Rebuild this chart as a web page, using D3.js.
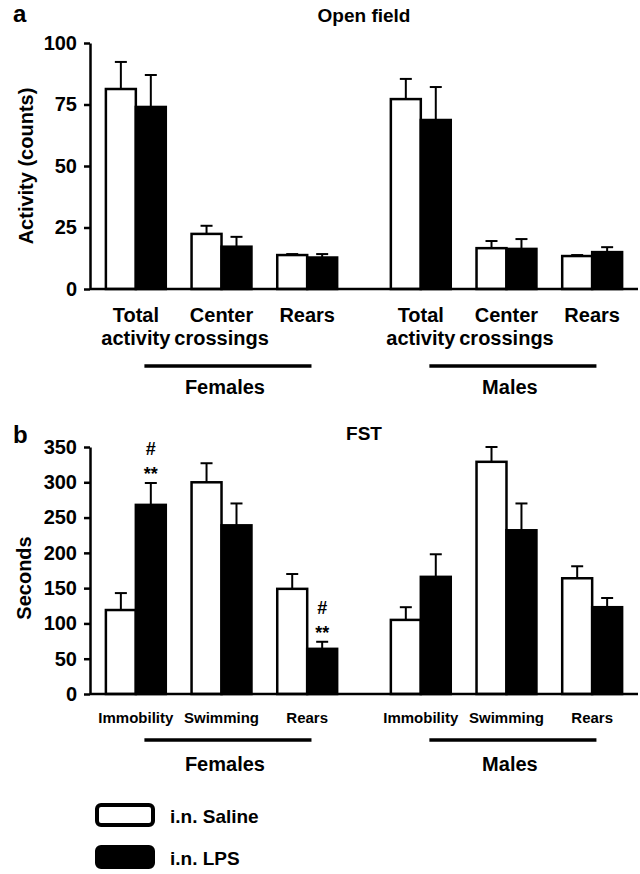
<!DOCTYPE html>
<html>
<head>
<meta charset="utf-8">
<script src="https://cdn.jsdelivr.net/npm/d3@7"></script>
<style>
  body { margin: 0; background: #fff; }
  text { font-family: "Liberation Sans", Arial, Helvetica, sans-serif; font-weight: bold; fill: #000; }
</style>
</head>
<body>
<svg id="chart" width="640" height="874"></svg>
<script>
// groups and series
const sexes = ["Females", "Males"];
const seriesKeys = ["saline", "lps"];
const seriesNames = ["i.n. Saline", "i.n. LPS"];

// panel a: open field
const openFieldLabels = [["Total", "activity"], ["Center", "crossings"], ["Rears"]];
const openFieldTicks = [0, 25, 50, 75, 100];
const ofFemSaline = [81.3, 22.4, 13.8];
const ofFemSalineSem = [11, 3.3, 0.4];
const ofFemLps = [74, 17.2, 12.8];
const ofFemLpsSem = [13, 4, 1.4];
const ofMaleSaline = [77.2, 16.6, 13.4];
const ofMaleSalineSem = [8.2, 2.9, 0.4];
const ofMaleLps = [68.7, 16.3, 15];
const ofMaleLpsSem = [13.4, 4, 2];

// panel b: forced swim test
const fstLabels = [["Immobility"], ["Swimming"], ["Rears"]];
const fstTicks = [0, 50, 100, 150, 200, 250, 300, 350];
const fstFemSaline = [119, 300, 149];
const fstFemSalineSem = [24, 27, 21];
const fstFemLps = [268, 239, 64];
const fstFemLpsSem = [31, 31, 10];
const fstMaleSaline = [105, 329, 164];
const fstMaleSalineSem = [18, 21, 17];
const fstMaleLps = [166, 232, 123];
const fstMaleLpsSem = [32, 38, 13];
const fstFemLpsMarks = [["#", "**"], [], ["#", "**"]];

const svg = d3.select("#chart");

// shared x layout: sex -> measure -> series
const x0 = d3.scaleBand().domain(sexes).range([93, 635]).paddingInner(0.098);
const x1 = d3.scaleBand().domain([0, 1, 2]).range([0, x0.bandwidth()]);
const x2 = d3.scaleBand().domain(seriesKeys).range([0, x1.bandwidth()]).paddingOuter(0.43);
const axisX = 90;

function rows(table) {
    const out = [];
    sexes.forEach((sex, si) => {
        seriesKeys.forEach((key, ki) => {
            const vals = table[si][ki][0], sems = table[si][ki][1];
            vals.forEach((v, i) => out.push({ sex, key, i, value: v, sem: sems[i] }));
        });
    });
    return out;
}

function drawPanel(p) {
    const y = d3.scaleLinear().domain([0, p.max]).range([p.y0, p.y1]);
    const g = svg.append("g");
    const data = rows(p.table);
    const bx = d => x0(d.sex) + x1(d.i) + x2(d.key);

    // error bars (upward only)
    const eb = g.selectAll(".err").data(data).enter().append("g").attr("class", "err");
    eb.append("line")
        .attr("x1", d => bx(d) + x2.bandwidth() / 2)
        .attr("x2", d => bx(d) + x2.bandwidth() / 2)
        .attr("y1", d => y(d.value))
        .attr("y2", d => y(d.value + d.sem))
        .attr("stroke", "#000").attr("stroke-width", 2);
    eb.append("line")
        .attr("x1", d => bx(d) + x2.bandwidth() / 2 - 6)
        .attr("x2", d => bx(d) + x2.bandwidth() / 2 + 6)
        .attr("y1", d => y(d.value + d.sem))
        .attr("y2", d => y(d.value + d.sem))
        .attr("stroke", "#000").attr("stroke-width", 2);

    // bars
    g.selectAll(".bar").data(data).enter().append("rect")
        .attr("class", "bar")
        .attr("x", d => bx(d))
        .attr("y", d => y(d.value))
        .attr("width", x2.bandwidth())
        .attr("height", d => y(0) - y(d.value))
        .attr("fill", d => d.key === "saline" ? "#fff" : "#000")
        .attr("stroke", "#000")
        .attr("stroke-width", 2.5);

    // significance marks
    if (p.marks) {
        data.filter(d => d.sex === p.marks.sex && d.key === p.marks.key).forEach(d => {
            const m = p.marks.list[d.i];
            if (!m.length) return;
            const cx = bx(d) + x2.bandwidth() / 2;
            const top = y(d.value + d.sem);
            g.append("text").attr("x", cx).attr("y", top - 28).attr("text-anchor", "middle")
                .style("font-size", "18px").text(m[0]);
            g.append("text").attr("x", cx).attr("y", top - 3).attr("text-anchor", "middle")
                .style("font-size", "18px").text(m[1]);
        });
    }

    // y axis
    const ya = g.append("g")
        .attr("transform", `translate(${axisX},0)`)
        .call(d3.axisLeft(y).tickValues(p.ticks).tickSize(6).tickSizeOuter(0).tickPadding(7));
    ya.select(".domain").attr("stroke-width", 2.5);
    ya.selectAll(".tick line").attr("stroke-width", 2.5);
    ya.selectAll(".tick text").style("font-size", "20px").style("font-family", "Liberation Sans, Arial, sans-serif").style("font-weight", "bold");

    // baseline
    g.append("line")
        .attr("x1", axisX).attr("x2", 638)
        .attr("y1", y(0)).attr("y2", y(0))
        .attr("stroke", "#000").attr("stroke-width", 2.5);

    // category labels
    sexes.forEach(sex => {
        p.labels.forEach((lines, i) => {
            const cx = x0(sex) + x1(i) + x1.bandwidth() / 2;
            lines.forEach((t, li) => {
                g.append("text").attr("x", cx).attr("y", y(0) + p.labelOff + li * 23)
                    .attr("text-anchor", "middle").style("font-size", p.labelSize).text(t);
            });
        });
        // bracket line + sex label
        const lx1 = x0(sex) + x1.bandwidth() * 0.6;
        const lx2 = x0(sex) + x0.bandwidth() - x1.bandwidth() * 0.45;
        g.append("line").attr("x1", lx1).attr("x2", lx2)
            .attr("y1", y(0) + p.lineOff).attr("y2", y(0) + p.lineOff)
            .attr("stroke", "#000").attr("stroke-width", 3.5);
        g.append("text").attr("x", (lx1 + lx2) / 2 - 3).attr("y", y(0) + p.sexOff)
            .attr("text-anchor", "middle").style("font-size", "20px").text(sex);
    });

    // titles
    g.append("text").attr("x", 13).attr("y", p.letterY).style("font-size", "24px").text(p.letter);
    g.append("text").attr("x", 364).attr("y", p.titleY).attr("text-anchor", "middle")
        .style("font-size", "19px").text(p.title);
    g.append("text")
        .attr("transform", `translate(${p.yLabelX},${p.yLabelY}) rotate(-90)`)
        .attr("text-anchor", "middle").style("font-size", "20px").text(p.yLabel);
}

drawPanel({
    letter: "a", letterY: 22, title: "Open field", titleY: 22,
    yLabel: "Activity (counts)", yLabelX: 33, yLabelY: 166,
    max: 100, y0: 289, y1: 43, ticks: openFieldTicks,
    labels: openFieldLabels, labelSize: "20px", labelOff: 33, lineOff: 77, sexOff: 105,
    table: [
        [[ofFemSaline, ofFemSalineSem], [ofFemLps, ofFemLpsSem]],
        [[ofMaleSaline, ofMaleSalineSem], [ofMaleLps, ofMaleLpsSem]]
    ]
});

drawPanel({
    letter: "b", letterY: 443, title: "FST", titleY: 440,
    yLabel: "Seconds", yLabelX: 31, yLabelY: 578,
    max: 350, y0: 694, y1: 447, ticks: fstTicks,
    labels: fstLabels, labelSize: "15px", labelOff: 29, lineOff: 46, sexOff: 77,
    marks: { sex: "Females", key: "lps", list: fstFemLpsMarks },
    table: [
        [[fstFemSaline, fstFemSalineSem], [fstFemLps, fstFemLpsSem]],
        [[fstMaleSaline, fstMaleSalineSem], [fstMaleLps, fstMaleLpsSem]]
    ]
});

// legend
const leg = svg.append("g").attr("transform", "translate(95,805)");
const legY = d3.scalePoint().domain(seriesKeys).range([0, 42]);
leg.selectAll("rect").data(seriesKeys).enter().append("rect")
    .attr("x", 2).attr("y", d => legY(d))
    .attr("width", 56).attr("height", 20).attr("rx", 4)
    .attr("fill", d => d === "saline" ? "#fff" : "#000")
    .attr("stroke", "#000").attr("stroke-width", 4);
leg.selectAll("text").data(seriesKeys).enter().append("text")
    .attr("x", 75).attr("y", d => legY(d) + 18)
    .style("font-size", "19px").text((d, i) => seriesNames[i]);
</script>
</body>
</html>
